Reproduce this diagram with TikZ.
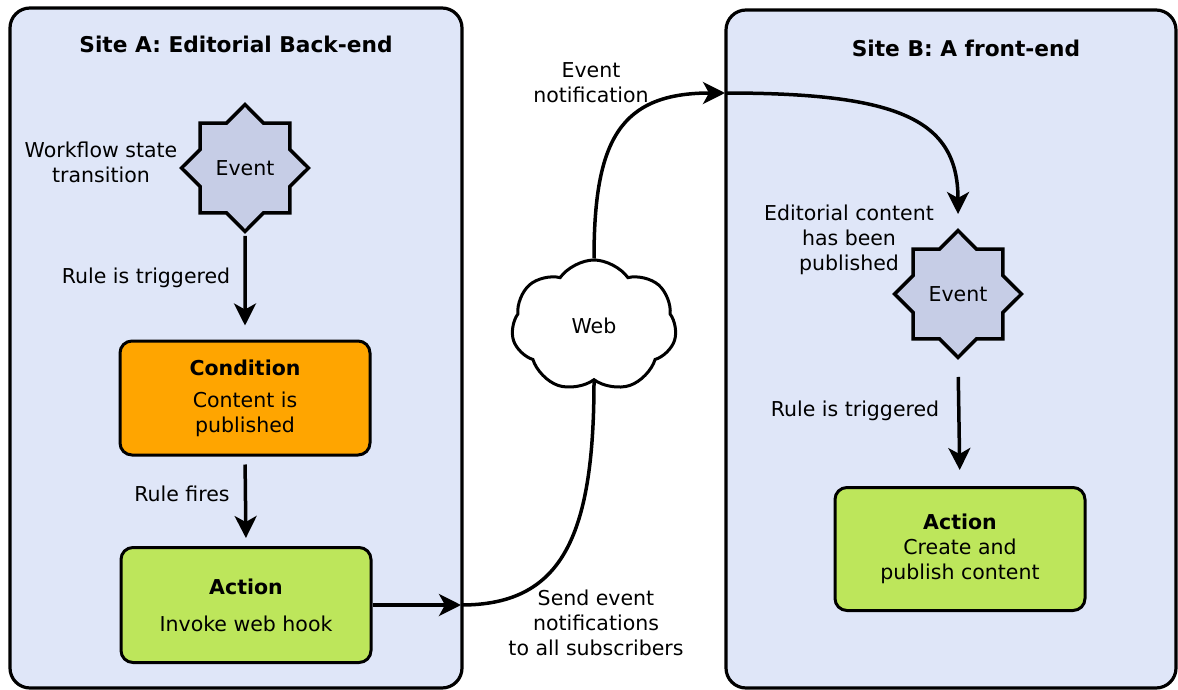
\documentclass[tikz,border=0pt]{standalone}
\usepackage{fontspec}
\setmainfont{DejaVu Sans}
\usetikzlibrary{shapes.geometric,shapes.symbols,arrows.meta}
\definecolor{sitebg}{HTML}{DFE6F8}
\definecolor{eventbg}{HTML}{C6CDE6}
\definecolor{condbg}{HTML}{FFA500}
\definecolor{actbg}{HTML}{BDE65B}
\tikzset{
  site/.style={draw, line width=3.2pt, rounded corners=20pt, fill=sitebg},
  event/.style={star, star points=8, star point ratio=1.31, minimum size=127pt,
    inner sep=0pt, draw, line width=3.5pt, fill=eventbg},
  box/.style={draw, line width=3pt, rounded corners=12pt, align=center,
    inner sep=0pt, minimum width=250pt},
  note/.style={align=center},
  title/.style={font=\fontsize{21.7}{26}\selectfont\bfseries},
  wire/.style={line width=3.5pt},
  arr/.style={wire, -{Stealth[length=22pt,width=22pt,inset=6pt]}},
}
\begin{document}
\begin{tikzpicture}[x=1pt, y=-1pt,
    every node/.style={font=\fontsize{20.5}{25}\selectfont}]
  \useasboundingbox (0,0) rectangle (1178,690);
  \draw[site] (10,8) rectangle (462,688);
  \draw[site] (726,10) rectangle (1176,688);

  \node[title] (titleA) at (236,44) {Site A: Editorial Back-end};
  \node[title] (titleB) at (966,48) {Site B: A front-end};

  \node[event] (ev1) at (245,168) {Event};
  \node[note] (wf) at (101,162) {Workflow state\\transition};
  \node[box, fill=condbg, minimum height=114pt] (cond) at (245,398)
    {\textbf{Condition}\\[7pt]Content is\\published};
  \node[box, fill=actbg, minimum height=115pt] (act1) at (246,605)
    {\textbf{Action}\\[12pt]Invoke web hook};
  \node (trig1) at (146,278) {Rule is triggered};
  \node (fires) at (182,494) {Rule fires};

  \node[cloud, cloud puffs=7, cloud puff arc=110, aspect=1.3, draw,
    line width=3pt, fill=white, minimum width=165pt, minimum height=132pt,
    inner sep=0pt] (web) at (594,326) {Web};
  \node[note] (send) at (596,623) {Send event\\notifications\\to all subscribers};
  \node[note] (notif) at (591,83) {Event\\notification};

  \node[note] (pub) at (849,240) {Editorial content\\has been\\published};
  \node[event] (ev2) at (958,294) {Event};
  \node (trig2) at (855,411) {Rule is triggered};
  \node[box, fill=actbg, minimum height=123pt] (act2) at (960,549)
    {\textbf{Action}\\Create and\\publish content};

  \coordinate (outA) at (461,605);
  \coordinate (inB) at (725,93);

  \draw[arr, shorten <=2pt, shorten >=14pt] (ev1.south) -- (cond.north);
  \draw[arr, shorten <=8pt, shorten >=8pt] (cond.south) -- (act1.north);
  \draw[arr] (act1.east) -- (outA);
  \draw[wire] (outA) .. controls (560,605) and (594,540) .. (web.south);
  \draw[arr] (web.north) .. controls (594,140) and (620,93) .. (inB);
  \draw[arr, shorten >=14pt] (inB) .. controls (900,93) and (958,120) .. (ev2.north);
  \draw[arr, shorten <=17pt, shorten >=16pt] (ev2.south) -- (act2.north);
\end{tikzpicture}
\end{document}
